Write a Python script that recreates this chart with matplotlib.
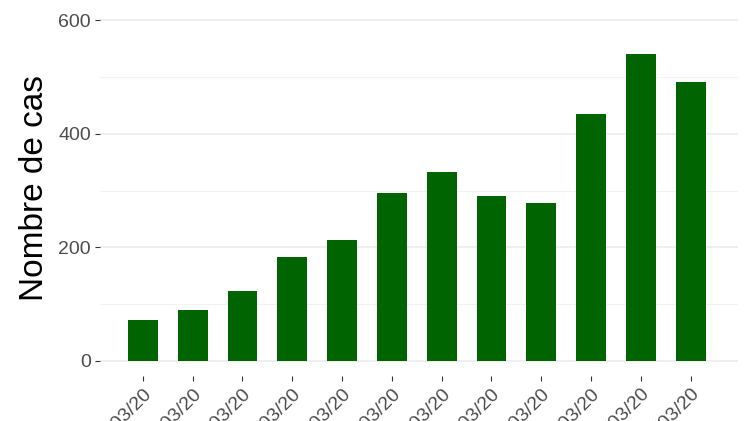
import matplotlib.pyplot as plt
import matplotlib.transforms as mtransforms
import numpy as np

plt.rcParams['font.family'] = ['Liberation Sans', 'DejaVu Sans']

# Data
dates = ['10/03/20', '11/03/20', '12/03/20', '13/03/20', '14/03/20', '15/03/20',
         '16/03/20', '17/03/20', '18/03/20', '19/03/20', '20/03/20', '21/03/20']
cases = [72, 90, 123, 183, 213, 296, 333, 290, 278, 435, 540, 491]

major_ticks = [0, 200, 400, 600]
minor_ticks = [100, 300, 500]

fig = plt.figure(figsize=(7.49, 4.21), dpi=100)
ax = fig.add_axes([100 / 749, 1 - 376 / 421, 638 / 749, 376 / 421])

x = np.arange(1, len(cases) + 1)
ax.bar(x, cases, width=0.6, color='#006400', zorder=3)

ax.set_xlim(0.14, 12.95)
ax.set_ylim(-26.4, 635.2)

ax.set_yticks(major_ticks)
ax.set_yticks(minor_ticks, minor=True)
ax.grid(axis='y', which='major', color='#EBEBEB', linewidth=1.1, zorder=0)
ax.grid(axis='y', which='minor', color='#F2F2F2', linewidth=0.8, zorder=0)

ax.set_xticks(x)
ax.set_xticklabels(dates, rotation=45, ha='right', rotation_mode='anchor')

# shift x labels a little to the right, like the original
offset = mtransforms.ScaledTranslation(0.09, -0.06, fig.dpi_scale_trans)
for lab in ax.get_xticklabels():
    lab.set_transform(lab.get_transform() + offset)

for s in ax.spines.values():
    s.set_visible(False)

ax.tick_params(axis='both', which='major', labelsize=14, labelcolor='#4D4D4D',
               color='#333333', length=3.5, width=0.8, pad=3)
ax.tick_params(axis='y', which='minor', length=0)

ax.set_ylabel('Nombre de cas', fontsize=24, color='black', labelpad=6)

fig.savefig('out.png', dpi=100)
